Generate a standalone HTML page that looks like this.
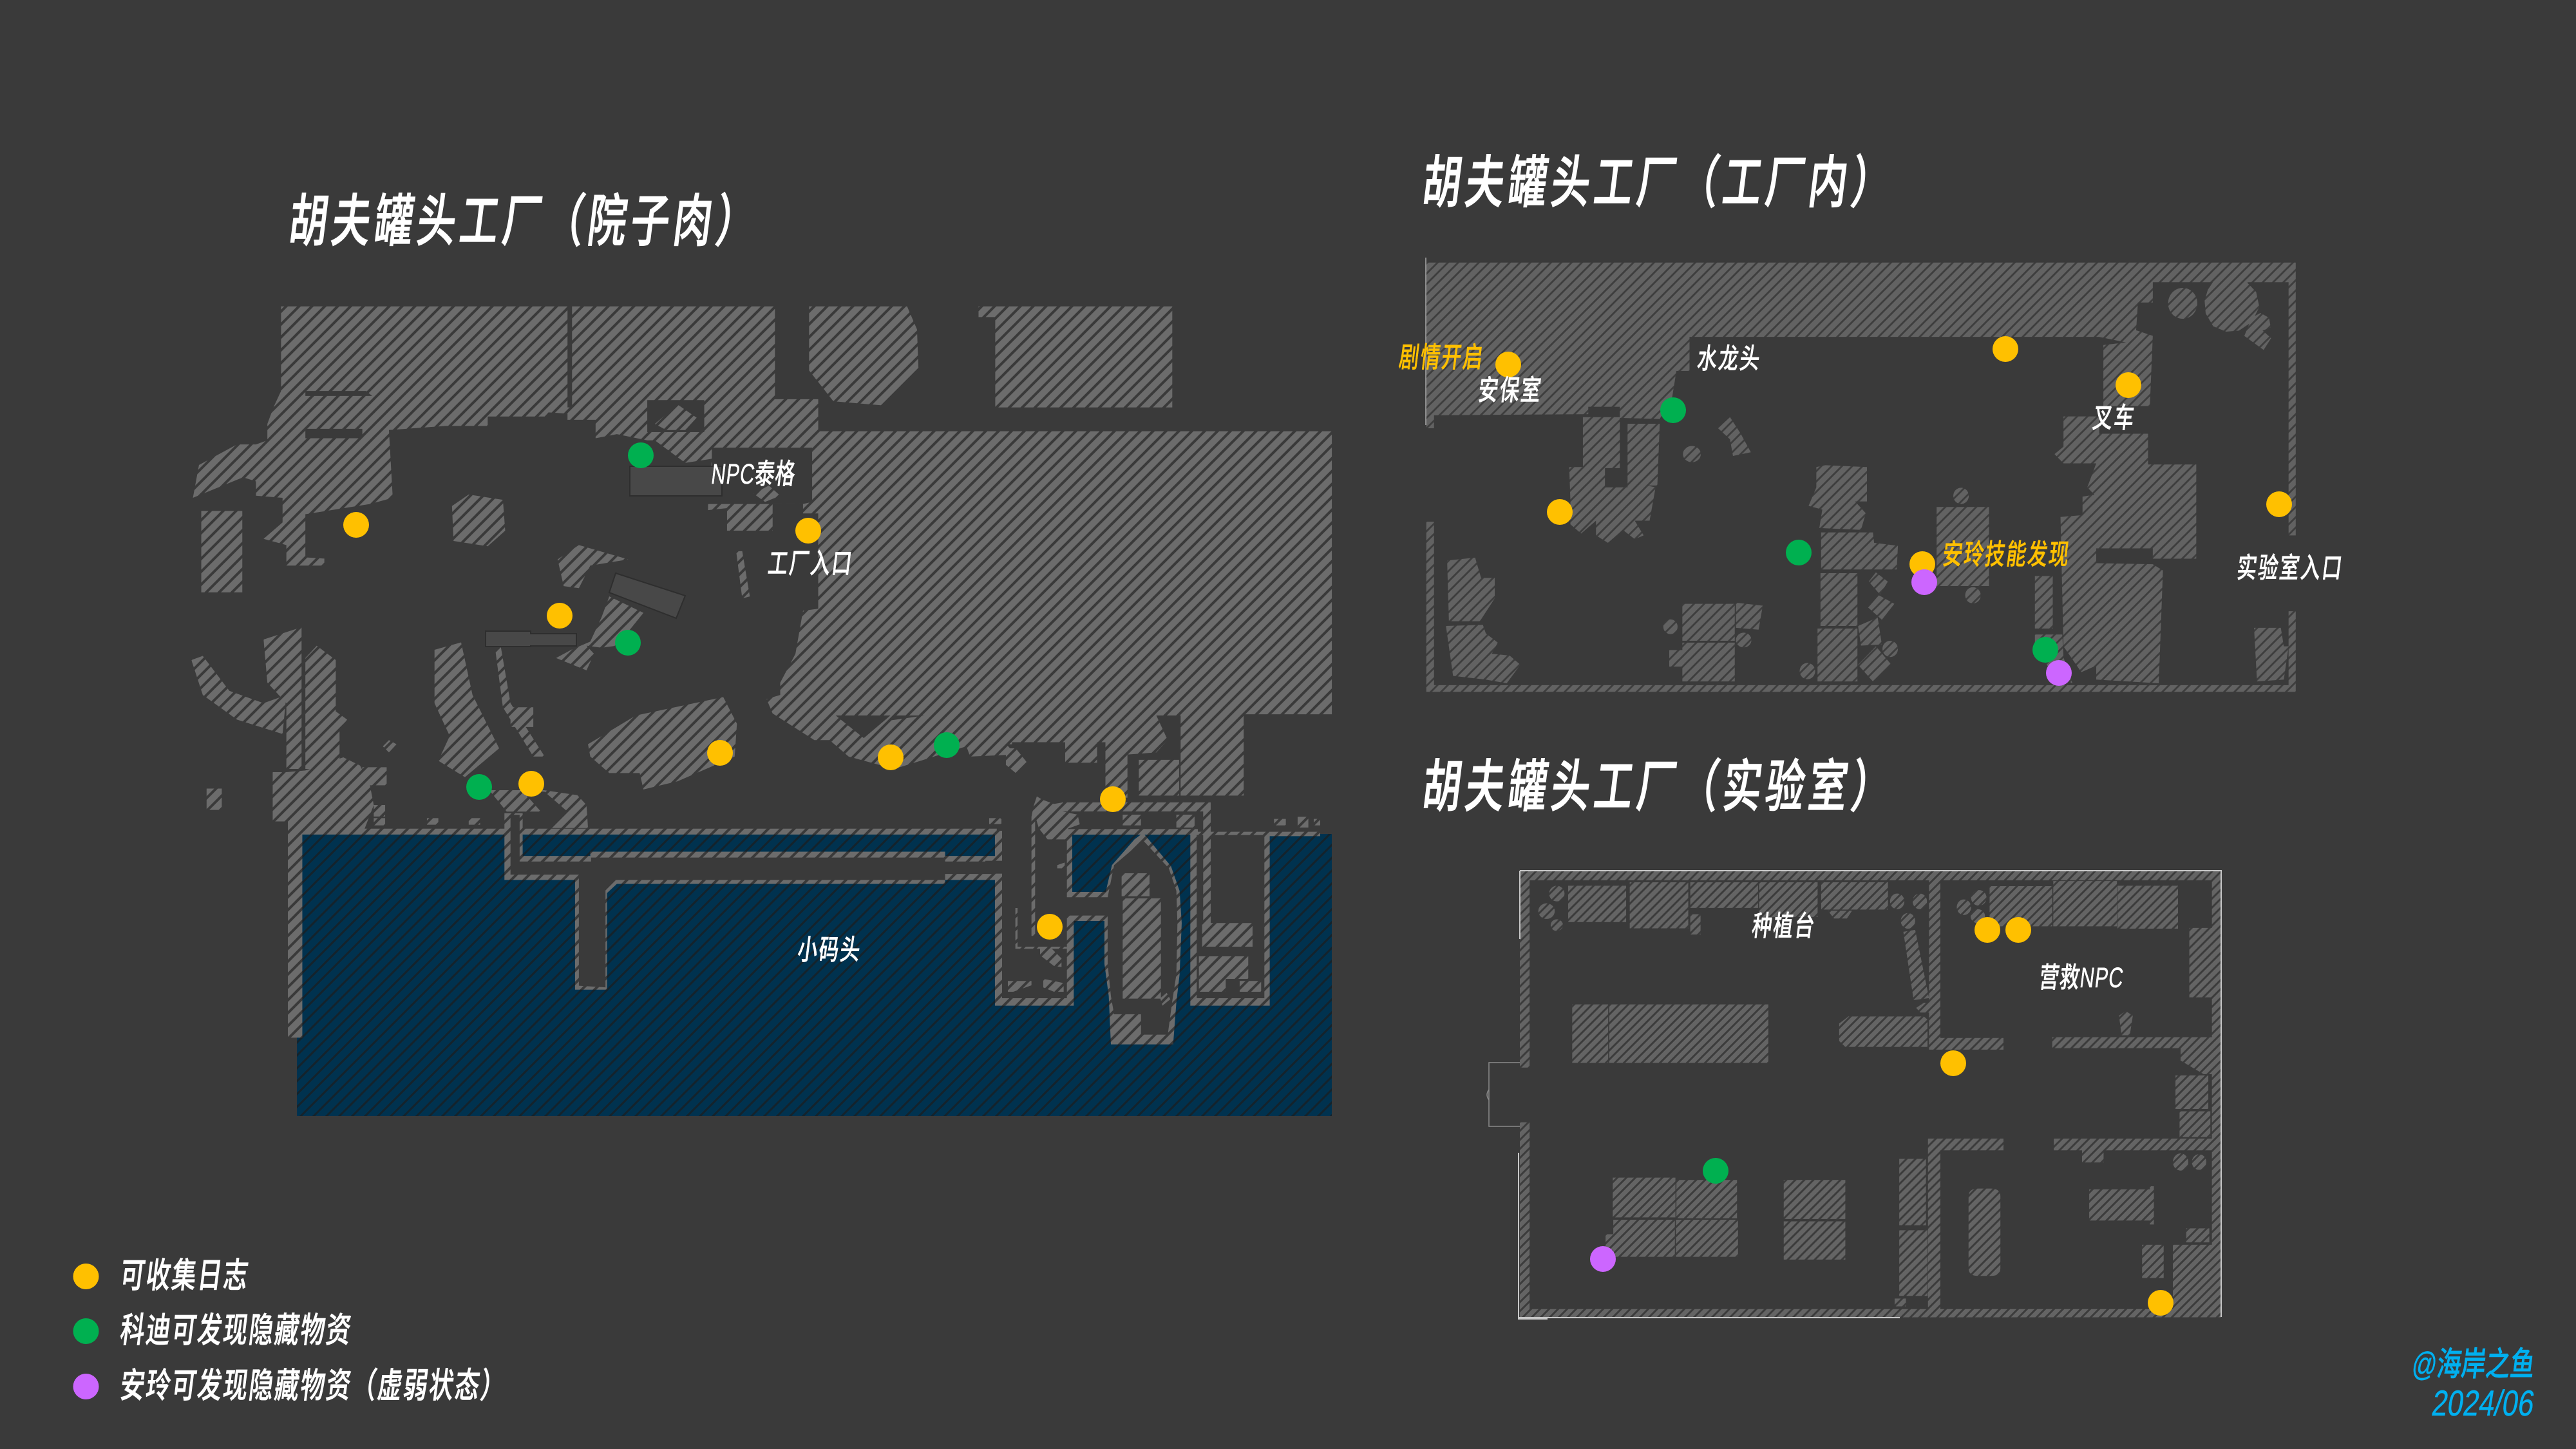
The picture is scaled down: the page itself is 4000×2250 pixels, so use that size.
<!DOCTYPE html>
<html><head><meta charset="utf-8"><style>
html,body{margin:0;padding:0;background:#3a3a3a}
svg{display:block}
text{font-family:"Liberation Sans","Noto Sans CJK SC",sans-serif;fill:#fff;stroke:#fff;font-weight:500}
.t{font-size:88px;stroke-width:1.4px;letter-spacing:9.5px}
.l{font-size:44px;stroke-width:.5px;letter-spacing:3.1px}
.g{font-size:54px;stroke-width:.8px;letter-spacing:3.1px}
.y{fill:#ffc000;stroke:#ffc000}
.b{fill:#00b0f0;stroke:#00b0f0;stroke-width:.5px}
</style></head><body>
<svg xmlns="http://www.w3.org/2000/svg" width="4000" height="2250" viewBox="0 0 4000 2250">
<defs>
<pattern id="h1" patternUnits="userSpaceOnUse" width="20" height="20"><rect width="20" height="20" fill="#6c6c6c"/><path d="M-2 22L22 -2M-2 2L2 -2M18 22L22 18" stroke="#3a3a3a" stroke-width="4"/></pattern>
<pattern id="h2" patternUnits="userSpaceOnUse" width="16" height="16"><rect width="16" height="16" fill="#626262"/><path d="M-2 18L18 -2M-2 2L2 -2M14 18L18 14" stroke="#3e3e3e" stroke-width="2.9"/></pattern>
<pattern id="h3" patternUnits="userSpaceOnUse" width="14" height="14"><rect width="14" height="14" fill="#646464"/><path d="M-2 16L16 -2M-2 2L2 -2M12 16L16 12" stroke="#3c3c3c" stroke-width="3"/></pattern>
<pattern id="hw" patternUnits="userSpaceOnUse" width="20" height="20"><rect width="20" height="20" fill="#00324f"/><path d="M-2 22L22 -2M-2 2L2 -2M18 22L22 18" stroke="#14232c" stroke-width="3.2"/></pattern>

<clipPath id="c1">
<path transform="translate(250,250) scale(1.1798,.6378)" d="M158 354H535V600H541V354H808V580H865V658H1541V1347H1425V1545H1342V1350H1272V1415H1232V1465H1190V1415H1110L1125 1445 1065 1450 1060 1425 1000 1460 965 1480 905 1450 880 1410 860 1410 805 1345 797 1310 815 1300 815 1270 835 1200 845 1095 865 1090V858H845V835H805V900H745V845L720 850 720 830 725 725 690 735 650 680 640 680 600 665 572 675V630H535V615L510 612 505 622H430V645H375L300 655 305 820 275 835 190 860V965L215 968V985H165V935L135 920 160 880V820L125 815V780L108 770 42 820 50 740 100 690H125L140 680V640L148 600 158 560Z
M853 354H982L995 410 997 510 950 595 885 585 853 510Z
M1076 354H1331V600H1098V380H1076Z
M53 852H107V1050H53Z
M383 840L405 812 450 825 453 900 430 938 385 925Z
M522 970L550 935 615 970 565 985 550 1040 530 1035Z
M590 1060L635 1100 600 1180 580 1185 560 1180 570 1200 560 1240 520 1210 540 1190 565 1170 580 1110Z
M757 950H765L775 1060 765 1065Z
M40 1215L55 1205 90 1290 135 1320 165 1300 160 1395 100 1360 55 1300Z
M135 1165L185 1135V1480H165V1320L140 1270Z
M190 1210L205 1180 230 1215V1340L245 1360 235 1385V1480H190Z
M360 1190L395 1172 410 1300 445 1430 400 1500 365 1460 380 1400 360 1320Z
M562 1420L625 1350 740 1305 758 1370 755 1450 680 1510 635 1530 630 1490 590 1490 565 1450Z
M440 1190L447 1180 460 1320 505 1450 490 1450 450 1330Z
M460 1330H490V1378H460Z
M1112 1430L1125 1430 1140 1465 1125 1490 1112 1470Z
M1272 1350H1310L1325 1410 1310 1440 1272 1445Z
M1243 1415H1272V1550H1243Z
M1287 1458H1340V1545H1287Z
M1062 1355H1120V1420H1062Z
M300 1410L310 1420 300 1440 292 1425Z"/>
<path transform="translate(250,1000) scale(1.1798,.5102)" d="M147 390H165L190 385 240 345 262 370 275 430 280 490 268 562H1100V580H186V1198H167V540H147Z
M60 440H80V505H60Z
M265 375H297V430H265Z
M432 445H475L500 510H455Z
M475 440L490 440 548 460 560 490 562 560H510L535 510 505 450Z
M452 515H476V645H565V632H1032V645H1110V718H1032V730H600L587 758V1052H545V718H452Z
M1090 530H1105V548H1090Z
M280 490H295V525H280ZM350 530H365V550H350ZM405 530H420V550H405ZM280 530H295V552H280Z"/>
</clipPath>
<clipPath id="c1b">
<path transform="translate(250,250) scale(1.1798,.6378)" d="M650 640L680 593 705 625 690 655 665 655Z M780 810L800 790 815 815 795 830Z"/>
</clipPath>
<clipPath id="c1e">
<path transform="translate(1530,1180) scale(.3333)" d="M45 330H405V750H412V1145H45Z
M405 615H600V750H405Z
M380 322H990V348H380Z
M735 340L865 495 905 610 915 760 905 1000 890 1130 875 1325H585L575 1100 555 950V640L590 490 695 370Z
M955 335H1325V1145H955Z
M1300 335H1560V355H1300Z"/>
</clipPath>
<clipPath id="c1f">
<path transform="translate(1530,1180) scale(.3333)" d="M360 198H1050V240H360Z
M225 215L240 170 265 185 320 205 360 198V240L430 255 440 300 385 320V370H290L250 320 235 270 215 265Z
M215 265H232V820H215Z
M1015 240H1050V760H1015Z
M1010 760H1245V870H1010Z
M995 915H1225V1020H995ZM995 1020H1120V1080H995ZM1185 1030H1285V1080H1185Z
M255 880H310L355 925V965L320 960 255 910Z
M105 1030H215V1050L130 1080H105Z
M270 1020L320 1030 365 1040V1080H320L270 1060Z
M335 490L370 478V505H335Z
M140 690H150V870H380V880H140Z
M635 528H765V635H635Z
M640 645H818V1112H640Z
M585 1185H725V1285H875V1325H585Z
M815 1110L845 1085 862 1115 825 1145Z
M890 255H975V315H890ZM640 255H725V305H640ZM1345 275H1400V305H1345ZM1455 265H1505V315H1455ZM1530 275H1560V305H1530ZM20 275H75V297H20Z"/>
</clipPath>

<clipPath id="c2"><path transform="translate(2150,200) scale(.9247,.574)" d="M70 362H1530V1100H1518V415H1290V470H1265L1262 545 1290 560 1285 750H1207V585L1245 578 1200 563H512V655H490L483 725 462 785 395 782V752H342V772L83 775V810H70Z
M70 1063H83V1505H1518V1305H1530V1523H70Z
M560 810L580 780 598 825 615 875 585 885 580 840Z
M501 880a15 22 0 1 0 30 0a15 22 0 1 0-30 0z
M333 780H395V918H370V970H408V798H462L458 965 440 965 455 970 445 1060H420L435 1100 420 1110 400 1085 375 1120 355 1100V1060L330 1095 312 1070V1005L310 915H333Z
M725 915L740 910 810 915V1008H790L808 1040 800 1085 730 1080 735 1030 712 1020 725 970Z
M733 1092H820L822 1120 862 1128 860 1192H733Z
M732 1202H794V1345H732Z
M727 1352H794V1495H727Z
M813 1225L825 1200 845 1225 832 1260Z
M812 1295L830 1262 856 1285 835 1328Z
M795 1345L828 1322 835 1395 800 1398Z
M795 1450L825 1400 850 1448 820 1495Z
M836 1407a13 22 0 1 0 26 0a13 22 0 1 0-26 0z
M697 1467a13 22 0 1 0 26 0a13 22 0 1 0-26 0z
M955 993a13 22 0 1 0 26 0a13 22 0 1 0-26 0z
M975 1262a13 22 0 1 0 26 0a13 22 0 1 0-26 0z
M927 1023H1015V1237H927Z
M1140 778H1200V825H1282V908H1363V1163H1290V1135H1195V1350L1198 1450 1170 1470 1140 1400 1135 1050 1172 1045V995L1192 990 1180 970 1195 905H1140L1125 880 1140 860Z
M1195 1175L1290 1178 1307 1195 1300 1500 1195 1490Z
M1092 1210H1122V1352H1092Z
M1092 1368H1138L1140 1430 1155 1500 1120 1470 1092 1400Z
M105 1168L152 1160 162 1215H185V1270L160 1332H108Z
M103 1345L165 1342 170 1365 190 1390 180 1420 210 1425 228 1450 205 1500 170 1490 115 1480Z
M500 1285H588V1385H500Z
M590 1282L635 1290 628 1355 590 1350Z
M468 1347a12 20 0 1 0 24 0a12 20 0 1 0-24 0z
M590 1383a13 20 0 1 0 26 0a13 20 0 1 0-26 0z
M500 1390H588V1495H500V1455H478V1410H500Z
M1460 1350H1505L1510 1400H1518L1510 1490 1465 1495Z"/>
<path transform="translate(3150,400) scale(.3333)" d="M650 213a68 72 0 1 0 136 0a68 72 0 1 0-136 0z
M868 100H1020V118L1060 160 1075 230 1040 300 980 340 920 345 860 320 825 260 820 200 835 150Z
M1040 280L1080 258 1120 280 1128 325 1090 340 1130 375 1095 430 1005 365Z"/></clipPath>

<clipPath id="c3"><path transform="translate(2250,1150) scale(.7972,.6059)" fill-rule="evenodd" d="M138 335H1504V1478H138V978H157V1457H1486V358H157V838H138Z"/>
<path transform="translate(2250,1150) scale(.7972,.6059)" d="M935 358H957V762H1080V792H935Z
M1175 760H1486V788H1486L1486 855H1470L1425 820V788H1175Z
M933 1020H1080V1050H957V1457H933Z
M1178 1020H1486V1050H1275V1081H1233V1050H1178Z
M232 372H345V465H232Z M352 363H466V481H352Z M470 363H602V429H470Z M604 363H718V452H604Z M725 363H855V433H725Z
M470 445H490V497H470Z M738 436H785L775 456H750Z
M240 676H310V826H240Z M312 676H622V826H312Z
M319 1120H441V1222H319Z M443 1126H561V1224H443Z M320 1228H440V1323H320Z M442 1228H563V1323H442Z M305 1265H320V1305H305Z
M652 1126H772V1226H652Z M652 1232H772V1330H652Z
M877 1072H929V1242H877Z M877 1255H932V1423H877Z M868 1430H890V1450H868Z
M1053 373H1175V476H1053Z M1177 360H1301V476H1177Z M1302 372H1420V482H1302Z M1442 480H1486V658H1442Z
M1415 858H1479V944H1415Z M1423 950H1483V1016H1423Z
M1247 1150H1365V1230H1247Z M1365 1142H1373V1240H1365Z M1436 1250H1481V1286H1436Z M1350 1292H1392V1377H1350Z
M1410 1292H1486V1290H1504V1478H1410Z
M1012 1168Q1012 1148 1030 1148H1056Q1074 1148 1074 1168V1352Q1074 1372 1056 1372H1030Q1012 1372 1012 1352Z
M778 707H925L932 715V785H772L760 770V725Z
M885 490L908 485 935 660 905 665Z
M910 685L925 672H935V697H918Z
M195 392a15 20 0 1 0 30 0a15 20 0 1 0-30 0z
M174 437a16 20 0 1 0 32 0a16 20 0 1 0-32 0z
M198 473a12 15 0 1 0 24 0a12 15 0 1 0-24 0z
M859 412a14 20 0 1 0 28 0a14 20 0 1 0-28 0z
M903 412a14 20 0 1 0 28 0a14 20 0 1 0-28 0z
M880 462a14 20 0 1 0 28 0a14 20 0 1 0-28 0z
M1017 403a15 20 0 1 0 30 0a15 20 0 1 0-30 0z
M989 427a14 20 0 1 0 28 0a14 20 0 1 0-28 0z
M1016 450a14 18 0 1 0 28 0a14 18 0 1 0-28 0z
M1410 1080a15 22 0 1 0 30 0a15 22 0 1 0-30 0z
M1447 1080a14 20 0 1 0 28 0a14 20 0 1 0-28 0z
M1305 705L1318 693 1332 705 1326 755H1310Z"/></clipPath>
</defs>

<rect width="4000" height="2250" fill="#3a3a3a"/>

<!-- Map 1 -->
<rect x="461" y="1295" width="1607" height="438" fill="url(#hw)"/>
<rect x="250" y="450" width="1820" height="1300" fill="url(#h1)" clip-path="url(#c1)"/>

<g transform="translate(250,250) scale(1.1798,.6378)" fill="#3a3a3a">
<path d="M190 560H270L278 572H190ZM190 652H265V675H190Z"/>
<path d="M640 582H715V660H640Z"/>
<path d="M725 698H857V830L845 835H720V745H725Z"/>
<path d="M888 1350H960L925 1405ZM965 1350H1005L960 1362Z"/>
</g>
<path transform="translate(250,1000) scale(1.1798,.5102)" fill="#3a3a3a" d="M460 520H472V662H566V650H1032V662H1110V700H1032V718H595L585 745V1045L550 1040V702H460Z"/>

<!-- East dock -->
<rect x="1530" y="1180" width="540" height="460" fill="url(#h1)" clip-path="url(#c1e)"/>
<path transform="translate(1530,1180) scale(.3333)" fill="#3a3a3a" d="M78 330H380V640H590V725H380V1110H78V530H0V470H78Z
M735 375L855 505 890 610 895 760 890 1000 870 1130 850 1280H725V1185H600L585 1100 570 950V640L600 490Z
M985 350H1300V1110H985Z"/>
<rect x="1530" y="1180" width="540" height="460" fill="url(#h1)" clip-path="url(#c1f)"/>
<rect x="250" y="450" width="1820" height="1300" fill="url(#h1)" clip-path="url(#c1b)"/>

<g fill="#484848" stroke="#2e2e2e" stroke-width="2">
<rect x="978" y="724" width="143" height="46"/>
<path d="M956 890L1064 925 1050 960 946 920Z"/>
<path d="M754 980H824V984H895V1003H824V1004H754Z"/>
</g>

<!-- Map 2 -->
<rect x="2200" y="400" width="1380" height="680" fill="url(#h2)" clip-path="url(#c2)"/>
<path d="M2214 400V660" stroke="#aaa" stroke-width="1.5"/>

<!-- Map 3 -->
<rect x="2340" y="1340" width="1120" height="720" fill="url(#h3)" clip-path="url(#c3)"/>
<g stroke="#c8c8c8" fill="none" stroke-width="2">
<path d="M2360 1352H3449V2045"/>
<path d="M2360 1352V1458"/>
<path d="M2358 1790V2048H2403M2358 2046H2950"/>
</g>
<path d="M2360 1650H2312V1749H2360M2312 1692Q2306 1700 2312 1708" stroke="#8a8a8a" fill="none" stroke-width="1.5"/>

<!-- Dots -->
<g fill="#ffc000">
<circle cx="553" cy="815" r="20"/><circle cx="1255" cy="824" r="20"/><circle cx="869" cy="956" r="20"/><circle cx="1118" cy="1169" r="20"/><circle cx="1383" cy="1176" r="20"/><circle cx="825" cy="1217" r="20"/><circle cx="1728" cy="1241" r="20"/><circle cx="1630" cy="1439" r="20"/>
<circle cx="2342" cy="566" r="20"/><circle cx="3114" cy="542" r="20"/><circle cx="3305" cy="598" r="20"/><circle cx="2422" cy="795" r="20"/><circle cx="2985" cy="876" r="20"/><circle cx="3539" cy="783" r="20"/>
<circle cx="3086" cy="1444" r="20"/><circle cx="3134" cy="1444" r="20"/><circle cx="3033" cy="1651" r="20"/><circle cx="3355" cy="2023" r="20"/>
<circle cx="133.500" cy="1982" r="20"/>
</g>
<g fill="#00b050">
<circle cx="995" cy="707" r="20"/><circle cx="975" cy="998" r="20"/><circle cx="744" cy="1222" r="20"/><circle cx="1470" cy="1157" r="20"/>
<circle cx="2598" cy="637" r="20"/><circle cx="2793" cy="858" r="20"/><circle cx="3176" cy="1009" r="20"/>
<circle cx="2664" cy="1818" r="20"/>
<circle cx="133.500" cy="2067" r="20"/>
</g>
<g fill="#cc66ff">
<circle cx="2988" cy="904" r="20"/><circle cx="3197" cy="1045" r="20"/><circle cx="2489" cy="1955" r="20"/>
<circle cx="133.500" cy="2153" r="20"/>
</g>

<!-- Titles -->
<text class="t" transform="translate(446,374) skewX(-7) scale(.68,1)">胡夫罐头工厂（院子肉）</text>
<text class="t" transform="translate(2206,314) skewX(-7) scale(.683,1)">胡夫罐头工厂（工厂内）</text>
<text class="t" transform="translate(2206,1252) skewX(-7) scale(.683,1)">胡夫罐头工厂（实验室）</text>

<!-- Labels -->
<g>
<text class="l" style="letter-spacing:1.2px" transform="translate(1103,751) skewX(-7) scale(.7,1)">NPC泰格</text>
<text class="l" transform="translate(1191,890) skewX(-7) scale(.7,1)">工厂入口</text>
<text class="l" transform="translate(1237,1490) skewX(-7) scale(.7,1)">小码头</text>
<text class="l y" transform="translate(2171,570) skewX(-7) scale(.7,1)">剧情开启</text>
<text class="l" transform="translate(2294,621) skewX(-7) scale(.7,1)">安保室</text>
<text class="l" transform="translate(2634,572) skewX(-7) scale(.7,1)">水龙头</text>
<text class="l" transform="translate(3248,664) skewX(-7) scale(.7,1)">叉车</text>
<text class="l y" transform="translate(3015,876) skewX(-7) scale(.7,1)">安玲技能发现</text>
<text class="l" transform="translate(3472,897) skewX(-7) scale(.7,1)">实验室入口</text>
<text class="l" transform="translate(2719,1453) skewX(-7) scale(.7,1)">种植台</text>
<text class="l" style="letter-spacing:1.2px" transform="translate(3165,1533) skewX(-7) scale(.7,1)">营救NPC</text>
</g>

<!-- Legend -->
<text class="g" transform="translate(185,1999) skewX(-7) scale(.7,1)">可收集日志</text>
<text class="g" transform="translate(185,2084) skewX(-7) scale(.7,1)">科迪可发现隐藏物资</text>
<text class="g" transform="translate(185,2170) skewX(-7) scale(.7,1)">安玲可发现隐藏物资（虚弱状态）</text>

<!-- Watermark -->
<text class="b" style="font-size:52px" text-anchor="end" transform="translate(3934,2136) skewX(-7) scale(.73,1)">@海岸之鱼</text>
<text class="b" style="font-size:56px" text-anchor="end" transform="translate(3932,2198) skewX(-9) scale(.78,1)">2024/06</text>
</svg>
</body></html>
